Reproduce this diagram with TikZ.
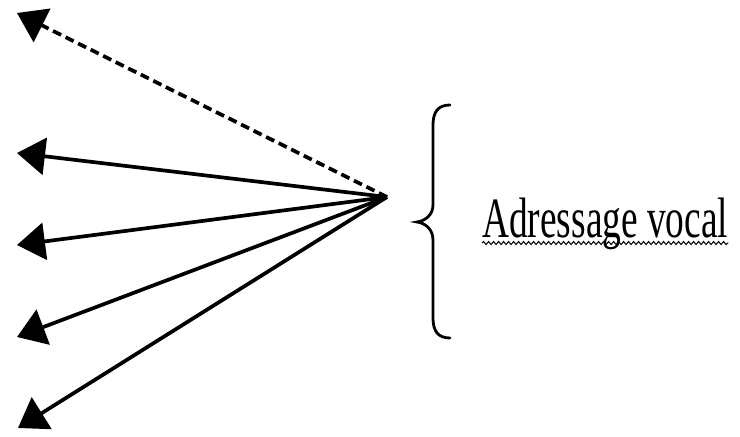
\documentclass[tikz,border=0pt]{standalone}
\usepackage{fontspec}
\setmainfont{Liberation Serif}
\usetikzlibrary{arrows.meta,decorations.pathmorphing}
\begin{document}
\begin{tikzpicture}[x=1pt, y=-1pt,
    ray/.style={line width=3.7pt, -{Triangle[length=28pt, width=37pt]}},
    dashray/.style={ray, dash pattern=on 9pt off 5pt},
    label/.style={inner sep=0pt, anchor=base west, font=\fontsize{57}{60}\selectfont},
]
\useasboundingbox (0,0) rectangle (740,437);

% Rays
\coordinate (hub) at (387,197);
\coordinate (t1) at (17,13);
\coordinate (t2) at (17,153);
\coordinate (t3) at (17,245);
\coordinate (t4) at (17,337);
\coordinate (t5) at (18,428);
\draw[dashray] (hub) -- (t1);
\foreach \t in {t2,t3,t4,t5} {
  \draw[ray] (hub) -- (\t);
}

% Brace
\draw[line width=2.8pt, line cap=round] (450,105) .. controls (438,105) and (433,112) .. (433,125)
  -- (433,205) .. controls (433,215) and (425,221) .. (417,222)
  .. controls (425,223) and (433,229) .. (433,240)
  -- (433,318) .. controls (433,331) and (438,338) .. (450,338);

% Label
\node[label] (lbl) at (482,237) {\scalebox{0.656}[1]{Adressage vocal}};
\draw[line width=1pt, decorate, decoration={snake, amplitude=1.5pt, segment length=5pt}]
  ([yshift=-6pt]lbl.base west) -- ([yshift=-6pt]lbl.base east);
\end{tikzpicture}
\end{document}
